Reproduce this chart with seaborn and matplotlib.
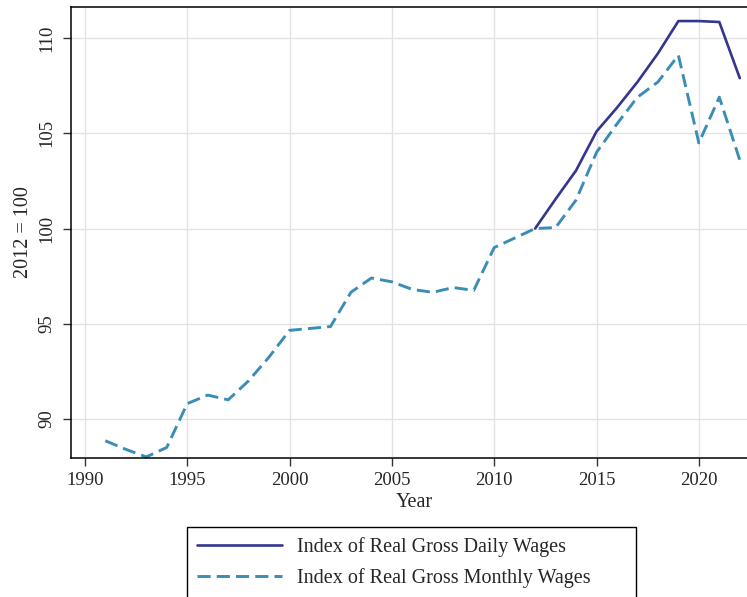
import pandas as pd
import matplotlib
matplotlib.use("Agg")
import matplotlib.pyplot as plt
import seaborn as sns

# values (2012 = 100)
years_monthly = list(range(1991, 2023))
monthly_index = [88.85, 88.4, 88.0, 88.5, 90.8, 91.25, 91.0, 92.0, 93.25, 94.65,
                 94.75, 94.85, 96.65, 97.4, 97.2, 96.8, 96.65, 96.9, 96.75, 99.0,
                 99.5, 100.0, 100.05, 101.5, 104.0, 105.5, 106.9, 107.7, 109.1, 104.5,
                 106.9, 103.6]

years_daily = list(range(2012, 2023))
daily_index = [100.0, 101.55, 103.05, 105.1, 106.35, 107.7, 109.2, 110.9, 110.9, 110.85, 107.9]

daily_label = "Index of Real Gross Daily Wages"
monthly_label = "Index of Real Gross Monthly Wages"

daily_df = pd.DataFrame({"Year": years_daily, "Index": daily_index})
monthly_df = pd.DataFrame({"Year": years_monthly, "Index": monthly_index})

sns.set_theme(style="whitegrid")
plt.rcParams["font.family"] = ["Liberation Serif", "DejaVu Serif"]
plt.rcParams["axes.edgecolor"] = "black"

fig = plt.figure(figsize=(7.47, 5.97), dpi=100)
# the axes run past the right edge, like the cropped original
ax = fig.add_axes([0.095, 0.233, 0.92, 0.755])

sns.lineplot(data=daily_df, x="Year", y="Index", ax=ax, color="#34358f",
             linewidth=1.9, label=daily_label)
sns.lineplot(data=monthly_df, x="Year", y="Index", ax=ax, color="#3b8db6",
             linewidth=2.1, dashes=False, label=monthly_label)
ax.lines[1].set_dashes((4.5, 2.1))

ax.set_xlim(1989.32, 2022.9)
ax.set_ylim(87.95, 111.63)
ax.set_xticks([1990, 1995, 2000, 2005, 2010, 2015, 2020])
ax.set_yticks([90, 95, 100, 105, 110])
ax.grid(True, color="#e3e3e3", linewidth=1.0)

for side in ["left", "bottom", "top"]:
    ax.spines[side].set_color("black")
    ax.spines[side].set_linewidth(1.1)
ax.spines["right"].set_visible(False)

ax.tick_params(axis="both", which="major", direction="out", length=6, width=1,
               color="#333333", labelsize=13.5, bottom=True, left=True)
ax.tick_params(axis="x", pad=4.5)
ax.tick_params(axis="y", pad=5)
for lab in ax.get_yticklabels():
    lab.set_rotation(90)
    lab.set_va("center")

ax.set_xlabel("Year", fontsize=14.5, labelpad=2.5)
ax.set_ylabel("2012 = 100", fontsize=14.5, labelpad=4)

ax.get_legend().remove()
leg = fig.legend(handles=ax.lines[:2], labels=[daily_label, monthly_label],
                 loc="upper left", mode="expand",
                 bbox_to_anchor=(187 / 747, 0.0, 449 / 747, 1 - 527 / 597),
                 frameon=True, fancybox=False, edgecolor="black", framealpha=1,
                 fontsize=14.5, handlelength=4.2, handletextpad=0.75,
                 labelspacing=0.55, borderpad=0.5, borderaxespad=0)
leg.get_frame().set_linewidth(1.0)

fig.savefig("out.png", dpi=100)
